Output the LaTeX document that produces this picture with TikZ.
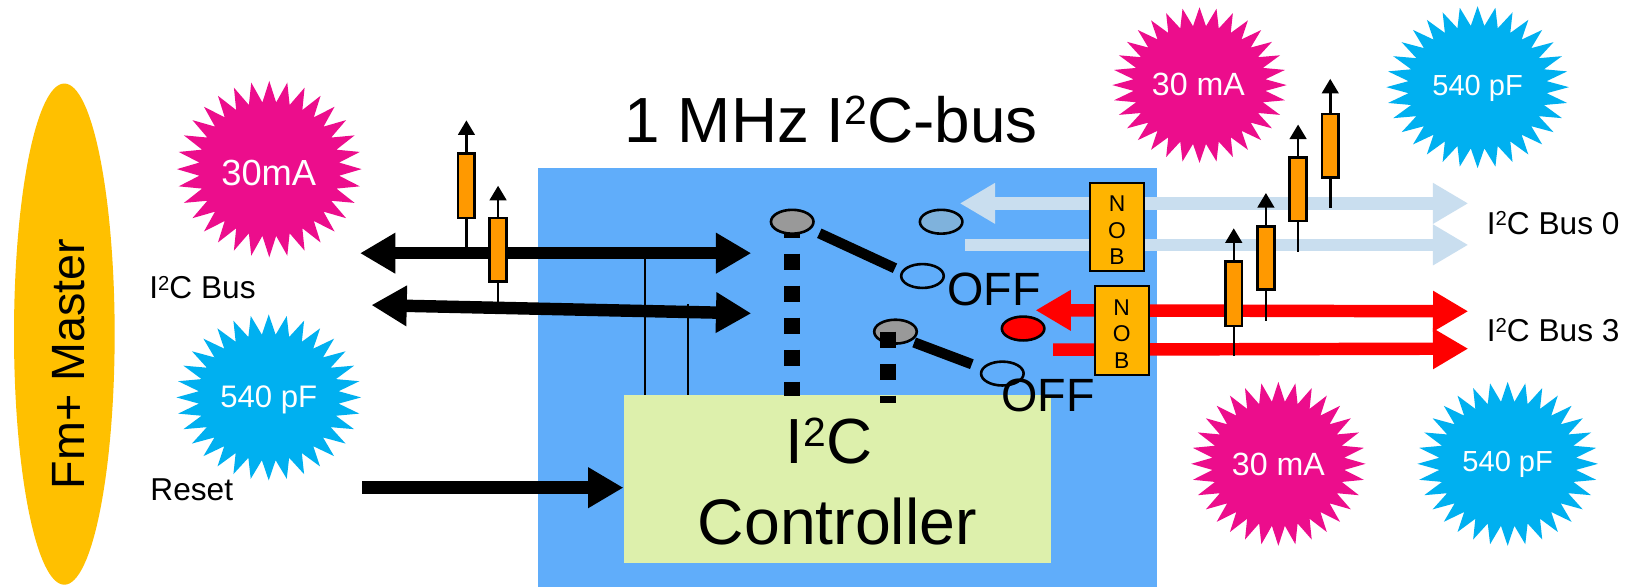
\documentclass[tikz,border=0pt]{standalone}
\usepackage{fontspec}
\setmainfont{Liberation Sans}
\usetikzlibrary{arrows.meta,shapes.geometric}
\definecolor{masterc}{HTML}{FFC000}
\definecolor{mag}{HTML}{EC0D8C}
\definecolor{cya}{HTML}{00B0F0}
\definecolor{chip}{HTML}{60ADFA}
\definecolor{ctrl}{HTML}{DDF0AC}
\definecolor{res}{HTML}{FF9900}
\definecolor{nobc}{HTML}{FFB400}
\definecolor{pale}{HTML}{C9DEEF}
\definecolor{greyc}{HTML}{999999}
\definecolor{bluec}{HTML}{7FB2DC}
\newcommand{\fsz}[1]{\fontsize{#1}{#1}\selectfont}
\newcommand{\suptwo}{\raisebox{.27em}{\scalebox{.64}{2}}}
\newcommand{\burst}[6]{%
  \fill[#6] plot[samples at={0,1,...,63},variable=\k]
    ({#2+#4*(mod(\k,2)==0?1:0.76)*cos(90+\k*5.625)},{#3+#5*(mod(\k,2)==0?1:0.76)*sin(90+\k*5.625)}) -- cycle;
  \coordinate (#1) at (#2,#3);}
\tikzset{
  txt/.style={inner sep=0pt,outer sep=0pt,align=center},
  startext/.style={txt,text=white},
  bus/.style={line width=12pt,{Triangle[length=34pt,width=37pt]}-{Triangle[length=34pt,width=37pt]}},
  busr/.style={line width=12pt,-{Triangle[length=34pt,width=37pt]}},
  resbox/.style={draw=black,fill=res,line width=2.5pt,minimum width=16pt,minimum height=62pt,inner sep=0pt,outer sep=0pt},
  stem/.style={line width=2.4pt,draw=black},
  up/.style={stem,-{Triangle[length=14pt,width=16pt]}},
  nobbox/.style={draw=black,fill=nobc,line width=2pt,minimum width=52pt,minimum height=85pt,inner sep=0pt,align=center,font=\fsz{22}},
  contact/.style={ellipse,draw=black,line width=2.5pt,minimum width=41pt,minimum height=23pt,inner sep=0pt,outer sep=0pt},
  blade/.style={line width=10pt,draw=black},
  ctl/.style={line width=15.4pt,draw=black,dash pattern=on 15.4pt off 15.4pt},
  thin/.style={line width=1.8pt,draw=black}
}
\begin{document}
\begin{tikzpicture}[x=1pt,y=-1pt]
\useasboundingbox (0,0) rectangle (1568,566);
\fill[white] (0,0) rectangle (1568,566);
% master
\node[ellipse,fill=masterc,minimum width=97pt,minimum height=483pt,inner sep=0pt] (master) at (62,322) {};
\node[txt,rotate=90,font=\fsz{45}] (mastert) at (66,351) {Fm+ Master};
% chip
\node[fill=chip,minimum width=596.5pt,minimum height=404pt,inner sep=0pt] (chipbox) at (816.8,364) {};
\node[fill=ctrl,minimum width=412pt,minimum height=162pt,inner sep=0pt] (ctrlbox) at (807,462) {};
\node[txt,font=\fsz{61.5},anchor=base] (title) at (801,137) {1 MHz I\suptwo{}C-bus};
\node[txt,font=\fsz{61.5},anchor=base] (ctrl1) at (799,447) {I\suptwo{}C};
\node[txt,font=\fsz{62}] (ctrl2) at (807,503) {Controller};
% stars
\burst{s1}{259.5}{163}{89}{85}{mag}
\burst{s2}{259}{383}{89}{80}{cya}
\burst{s3}{1156}{82}{84}{75}{mag}
\burst{s4}{1424}{84}{88}{78}{cya}
\burst{s5}{1232}{447}{84}{79}{mag}
\burst{s6}{1453}{447}{87}{79}{cya}
\node[startext,font=\fsz{35}] (s1t) at (259,167) {30mA};
\node[startext,font=\fsz{30}] (s2t) at (259,385) {540 pF};
\node[startext,font=\fsz{31}] (s3t) at (1155,81) {30 mA};
\node[startext,font=\fsz{28}] (s4t) at (1424,85) {540 pF};
\node[startext,font=\fsz{31}] (s5t) at (1232,448) {30 mA};
\node[startext,font=\fsz{28}] (s6t) at (1453,448) {540 pF};
% labels
\node[txt,anchor=base west,font=\fsz{30.5}] (l1) at (144,288) {I\suptwo{}C Bus};
\node[txt,anchor=west,font=\fsz{30.5}] (l2) at (145,472) {Reset};
\node[txt,anchor=base west,font=\fsz{30.5}] (l3) at (1433,226) {I\suptwo{}C Bus 0};
\node[txt,anchor=base west,font=\fsz{30.5}] (l4) at (1433,329) {I\suptwo{}C Bus 3};
% coordinates
\coordinate (a1) at (347,244); \coordinate (a2) at (724,244);
\coordinate (b1) at (358,294); \coordinate (b2) at (724,302);
\coordinate (c1) at (349,470);
\coordinate (d1) at (925,196); \coordinate (d2) at (1415,196);
\coordinate (e1) at (930,236); \coordinate (e2) at (1415,236);
\coordinate (f1) at (998,299); \coordinate (f2) at (1415,300);
\coordinate (g1) at (1015,337); \coordinate (g2) at (1415,336);
% thin lines to controller
\coordinate (t1) at (622,248); \coordinate (t1b) at (622,381);
\coordinate (t2) at (663,293); \coordinate (t2b) at (663,381);
\draw[thin] (t1) -- (t1b);
\draw[thin] (t2) -- (t2b);
% buses
\draw[bus,draw=black,fill=black] (a1) -- (a2);
\draw[bus,draw=black,fill=black] (b1) -- (b2);
\draw[busr,draw=black,fill=black] (c1) -- (ctrlbox.west |- c1);
\draw[bus,draw=pale] (d1) -- (d2);
\draw[busr,draw=pale] (e1) -- (e2);
\draw[bus,draw=red] (f1) -- (f2);
\draw[busr,draw=red] (g1) -- (g2);
% nob
\node[nobbox] (nob1) at (1076.5,218.5) {\rule{0pt}{22pt}N\\[3.7pt]O\\[3.7pt]B};
\node[nobbox] (nob2) at (1081,318.5) {\rule{0pt}{22pt}N\\[3.7pt]O\\[3.7pt]B};
% switch
\coordinate (c2top) at (763,213.7); \coordinate (c2bot) at (763,381.5);
\coordinate (c3top) at (855.5,319.6); \coordinate (c3bot) at (855.5,388.6);
\draw[ctl] (c2top) -- (c2bot);
\node[contact,fill=greyc] (sw1) at (763.5,213.7) {};
\node[contact,fill=bluec] (sw2) at (907,213.7) {};
\node[contact] (sw3) at (889,266) {};
\node[contact,fill=greyc] (sw4) at (863,319.6) {};
\node[contact,fill=red] (sw5) at (986,316.6) {};
\node[contact] (sw6) at (966,360) {};
\draw[ctl] (c3top) -- (c3bot);
\coordinate (h1) at (789.6,224.8); \coordinate (h2) at (862.5,258.5);
\coordinate (i1) at (881,330); \coordinate (i2) at (936.6,351);
\draw[blade] (h1) -- (h2);
\draw[blade] (i1) -- (i2);
\node[txt,font=\fsz{45}] (off1) at (958,279) {OFF};
\node[txt,font=\fsz{45}] (off2) at (1010,381) {OFF};
% resistors
\newcommand{\resistor}[6]{%
  \coordinate (#1tip) at (#2,#5);
  \coordinate (#1low) at (#2,#6);
  \node[resbox,minimum height=#4-#3] (#1) at (#2,{(#3+#4)/2}) {};
  \draw[up] (#1.north) -- (#1tip);
  \draw[stem] (#1.south) -- (#1low);}
\resistor{r1}{449.5}{148}{210}{116}{240}
\resistor{r2}{480}{210}{271}{179}{292}
\resistor{r3}{1189}{252}{314}{220}{343}
\resistor{r4}{1220}{218}{279}{186}{309}
\resistor{r5}{1251}{152}{213}{120}{243}
\resistor{r6}{1282}{110}{171}{76}{200}
\end{tikzpicture}
\end{document}
